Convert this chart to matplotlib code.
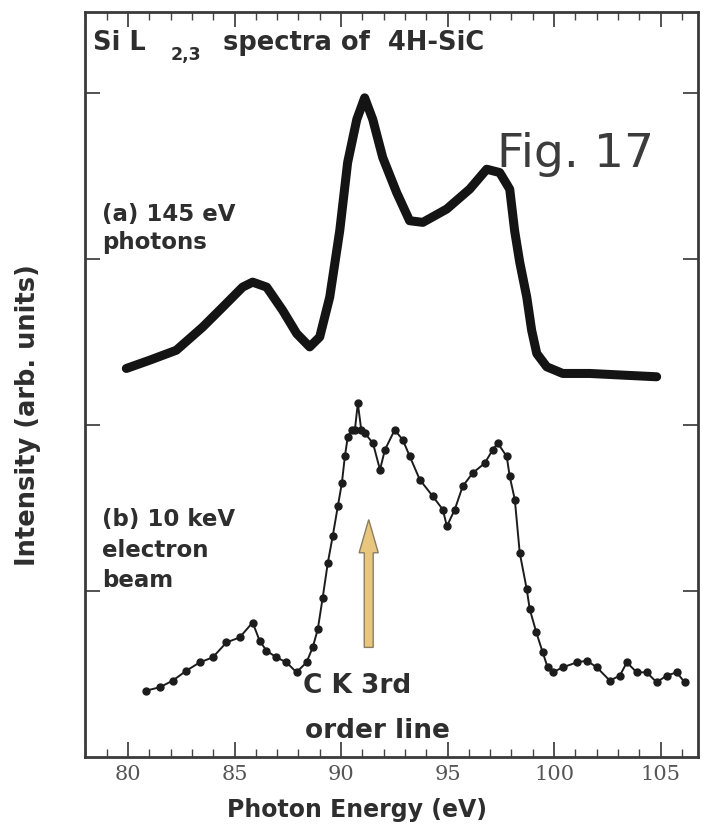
import numpy as np
import matplotlib.pyplot as plt
from matplotlib.patches import FancyArrow
from matplotlib.ticker import MultipleLocator

# (a) 145 eV photons -- centre of the dense band of points
e_photon = [79.92, 81.02, 82.27, 83.51, 84.45, 85.38, 85.85, 86.51, 87.26, 87.92,
            88.53, 89.00, 89.47, 89.94, 90.31, 90.74, 91.11, 91.49, 91.96, 92.61,
            93.22, 93.84, 94.96, 96.04, 96.84, 97.45, 97.92, 98.15, 98.39, 98.72,
            98.95, 99.19, 99.66, 100.41, 101.68, 103.23, 104.82]
i_photon = [2.34, 2.39, 2.45, 2.59, 2.71, 2.83, 2.86, 2.83, 2.69, 2.55,
            2.47, 2.53, 2.77, 3.17, 3.58, 3.84, 3.97, 3.84, 3.61, 3.40,
            3.23, 3.22, 3.30, 3.42, 3.54, 3.52, 3.42, 3.17, 2.98, 2.77,
            2.57, 2.43, 2.35, 2.31, 2.31, 2.30, 2.29]

# (b) 10 keV electron beam
e_electron = [80.86, 81.49, 82.10, 82.74, 83.37, 83.98, 84.62, 85.24, 85.85, 86.18,
              86.50, 86.97, 87.44, 87.91, 88.38, 88.67, 88.91, 89.14, 89.38, 89.61,
              89.85, 90.04, 90.18, 90.32, 90.50, 90.65, 90.79, 90.95, 91.12, 91.50,
              91.83, 92.06, 92.52, 92.90, 93.23, 93.70, 94.31, 94.78, 94.97, 95.34,
              95.71, 96.18, 96.75, 97.12, 97.36, 97.78, 97.92, 98.16, 98.39, 98.72,
              98.86, 99.17, 99.47, 99.70, 99.94, 100.41, 101.07, 101.54, 102.01, 102.62,
              103.09, 103.42, 103.88, 104.35, 104.82, 105.29, 105.76, 106.13]
i_electron = [0.40, 0.42, 0.46, 0.52, 0.57, 0.60, 0.69, 0.72, 0.81, 0.70,
              0.64, 0.60, 0.57, 0.51, 0.57, 0.66, 0.77, 0.96, 1.17, 1.33,
              1.51, 1.65, 1.81, 1.93, 1.97, 1.97, 2.13, 1.97, 1.95, 1.89,
              1.73, 1.85, 1.97, 1.91, 1.81, 1.67, 1.57, 1.49, 1.39, 1.49,
              1.63, 1.71, 1.77, 1.85, 1.89, 1.81, 1.69, 1.55, 1.23, 1.01,
              0.89, 0.75, 0.63, 0.54, 0.51, 0.54, 0.57, 0.58, 0.54, 0.46,
              0.49, 0.57, 0.51, 0.51, 0.45, 0.49, 0.51, 0.45]

x_ticks = [80, 85, 90, 95, 100, 105]
y_ticks = [1, 2, 3, 4]

# C K 3rd order line marker
arrow_e = 91.30
arrow_from, arrow_to = 0.66, 1.43

W, H = 702, 826


def fxy(px, py):
    # picture pixels -> figure fraction
    return px / W, 1 - py / H


plt.rcParams['font.family'] = 'DejaVu Sans'

fig = plt.figure(figsize=(W / 100, H / 100), dpi=100)
ax = fig.add_axes([85 / W, 1 - 757 / H, (698 - 85) / W, (757 - 11.5) / H])

ax.plot(e_photon, i_photon, color='#141414', lw=6.5,
        solid_joinstyle='round', solid_capstyle='round')
ax.plot(e_electron, i_electron, '-', color='#1c1c1c', lw=1.4,
        marker='o', ms=5, mfc='#1c1c1c', mec='#1c1c1c')

ax.add_patch(FancyArrow(arrow_e, arrow_from, 0, arrow_to - arrow_from,
                        width=0.42, head_width=0.9, head_length=0.2,
                        length_includes_head=True,
                        facecolor='#e8c67e', edgecolor='#8a7e62', lw=1))

ax.set_xlim(77.98, 106.76)
ax.set_ylim(0, 4.49)
ax.set_xticks(x_ticks)
ax.xaxis.set_minor_locator(MultipleLocator(1))
ax.set_yticks(y_ticks)
ax.tick_params(which='both', direction='in', top=True, right=True,
               color='#444444', labelleft=False)
ax.tick_params(which='major', length=11, width=1.3)
ax.tick_params(which='minor', length=6, width=1.0)
ax.tick_params(axis='x', labelsize=15, labelcolor='#555555', pad=6)
for lab in ax.get_xticklabels():
    lab.set_fontfamily('DejaVu Serif')
for sp in ax.spines.values():
    sp.set_linewidth(2)
    sp.set_color('#3a3a3a')

txt = dict(color='#2e2e2e', fontweight='bold', va='baseline', ha='left')

fig.text(*fxy(93, 50), 'Si L', fontsize=18.5, **txt)
fig.text(*fxy(171, 60), '2,3', fontsize=12.5, **txt)
fig.text(*fxy(223, 50), 'spectra of  4H-SiC', fontsize=18.5, **txt)

fig.text(*fxy(102, 221), '(a) 145 eV', fontsize=16.5, **txt)
fig.text(*fxy(102, 249), 'photons', fontsize=16.5, **txt)
fig.text(*fxy(102, 526), '(b) 10 keV', fontsize=16.5, **txt)
fig.text(*fxy(102, 557), 'electron', fontsize=16.5, **txt)
fig.text(*fxy(102, 587), 'beam', fontsize=16.5, **txt)

fig.text(*fxy(303, 693), 'C K 3rd', fontsize=19, **txt)
fig.text(*fxy(305, 738), 'order line', fontsize=19, **txt)

fig.text(*fxy(497, 167), 'Fig. 17', fontsize=34, color='#3c3c3c',
         va='baseline', ha='left')

fig.text(*fxy(357, 817), 'Photon Energy (eV)', fontsize=17, **txt)
fig.texts[-1].set_ha('center')
fig.text(*fxy(28, 415), 'Intensity (arb. units)', fontsize=18.5, rotation=90,
         color='#2e2e2e', fontweight='bold', ha='center', va='center')

fig.savefig('out.png', dpi=100, facecolor='white')
